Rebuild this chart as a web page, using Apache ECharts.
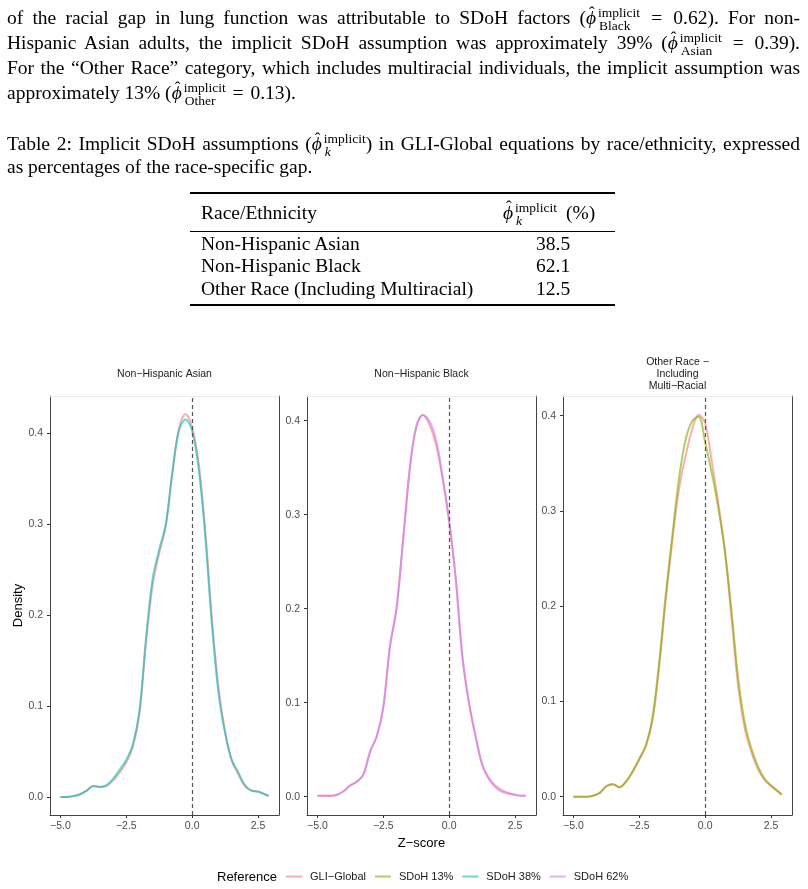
<!DOCTYPE html>
<html>
<head>
<meta charset="utf-8">
<script src="https://cdn.jsdelivr.net/npm/echarts@6/dist/echarts.min.js"></script>
<style>
  body { margin: 0; background: #fff; }
  #page { position: relative; width: 808px; height: 889px; overflow: hidden; }
  #chart { position: absolute; left: 0; top: 0; width: 808px; height: 889px; }
  #text { position: absolute; left: 0; top: 0; width: 808px; height: 330px; z-index: 2; pointer-events: none;
          font-family: "Liberation Serif", "DejaVu Serif", serif; font-size: 19.5px; color: #000; }
  .ln { position: absolute; left: 7px; width: 793px; height: 26px; line-height: 26px; white-space: nowrap; }
  .just { text-align: justify; text-align-last: justify; white-space: normal; }
  .phi { position: relative; font-style: italic; }
  .phi::after { content: "ˆ"; position: absolute; left: 3px; top: -7px; font-style: normal; font-size: 17px; }
  .ms { display: inline-flex; flex-direction: column; vertical-align: middle; font-size: 13.5px; line-height: 12.5px; margin-left: 2px; }
  .ms .sb { padding-left: 1px; }
  .eq { margin: 0 2px; }
  i { font-style: italic; }
  .rule { position: absolute; left: 190px; width: 425px; background: #000; }
  .cell { position: absolute; line-height: 24px; white-space: nowrap; }
</style>
</head>
<body>
<div id="page">
  <div id="chart"></div>
  <div id="text">
    <div class="ln just" style="top:5px">of the racial gap in lung function was attributable to SDoH factors (<span class="phi">ϕ</span><span class="ms"><span>implicit</span><span class="sb">Black</span></span> <span class="eq">=</span> 0.62). For non-</div>
    <div class="ln just" style="top:30px">Hispanic Asian adults, the implicit SDoH assumption was approximately 39% (<span class="phi">ϕ</span><span class="ms"><span>implicit</span><span class="sb">Asian</span></span> <span class="eq">=</span> 0.39).</div>
    <div class="ln just" style="top:55px">For the “Other Race” category, which includes multiracial individuals, the implicit assumption was</div>
    <div class="ln" style="top:80px">approximately 13% (<span class="phi">ϕ</span><span class="ms"><span>implicit</span><span class="sb">Other</span></span> <span class="eq">=</span> 0.13).</div>

    <div class="ln just" style="top:131px">Table 2: Implicit SDoH assumptions (<span class="phi">ϕ</span><span class="ms"><span>implicit</span><span class="sb"><i>k</i></span></span>) in GLI-Global equations by race/ethnicity, expressed</div>
    <div class="ln" style="top:154px">as percentages of the race-specific gap.</div>

    <div class="rule" style="top:192px; height:2px"></div>
    <div class="cell" style="left:201px; top:201px">Race/Ethnicity</div>
    <div class="cell" style="left:503px; top:201px"><span class="phi">ϕ</span><span class="ms"><span>implicit</span><span class="sb"><i>k</i></span></span><span style="padding-left:9px">(%)</span></div>
    <div class="rule" style="top:231px; height:1px"></div>
    <div class="cell" style="left:201px; top:232px">Non-Hispanic Asian</div>
    <div class="cell" style="left:536px; top:232px">38.5</div>
    <div class="cell" style="left:201px; top:254px">Non-Hispanic Black</div>
    <div class="cell" style="left:536px; top:254px">62.1</div>
    <div class="cell" style="left:201px; top:277px">Other Race (Including Multiracial)</div>
    <div class="cell" style="left:536px; top:277px">12.5</div>
    <div class="rule" style="top:304px; height:2px"></div>
  </div>
</div>
<script>
// z-score grid shared by every density curve
const zScores = [-5, -4.75, -4.5, -4.25, -4, -3.75, -3.5, -3.25, -3, -2.75, -2.5, -2.25, -2, -1.75, -1.5, -1.25,
  -1, -0.75, -0.5, -0.25, 0, 0.25, 0.5, 0.75, 1, 1.25, 1.5, 1.75, 2, 2.25, 2.5, 2.75, 2.9];

// Non-Hispanic Asian
const asianGli = [0, 0, 0.001, 0.003, 0.007, 0.012, 0.011, 0.012, 0.018, 0.027, 0.038, 0.055, 0.092, 0.170, 0.233, 0.268,
  0.298, 0.357, 0.405, 0.421, 0.406, 0.366, 0.292, 0.196, 0.120, 0.072, 0.040, 0.025, 0.012, 0.007, 0.006, 0.003, 0.001];
const asianSdoh38 = [0, 0, 0.001, 0.003, 0.007, 0.012, 0.011, 0.013, 0.020, 0.030, 0.041, 0.058, 0.095, 0.175, 0.240, 0.272,
  0.300, 0.357, 0.403, 0.415, 0.402, 0.360, 0.285, 0.189, 0.114, 0.070, 0.041, 0.027, 0.013, 0.007, 0.006, 0.003, 0.001];

// Non-Hispanic Black
const blackGli = [0.001, 0.001, 0.001, 0.002, 0.006, 0.012, 0.016, 0.024, 0.048, 0.064, 0.095, 0.158, 0.200, 0.272, 0.347, 0.393,
  0.406, 0.396, 0.375, 0.338, 0.293, 0.232, 0.150, 0.100, 0.065, 0.035, 0.020, 0.012, 0.007, 0.004, 0.002, 0.001, 0.001];
const blackSdoh62 = [0.001, 0.001, 0.001, 0.002, 0.006, 0.012, 0.016, 0.024, 0.048, 0.064, 0.095, 0.160, 0.200, 0.273, 0.348, 0.394,
  0.406, 0.400, 0.380, 0.341, 0.293, 0.232, 0.149, 0.100, 0.064, 0.034, 0.019, 0.010, 0.005, 0.003, 0.002, 0.001, 0.001];

// Other race, including multi-racial
const otherGli = [0, 0, 0, 0.001, 0.004, 0.011, 0.013, 0.010, 0.016, 0.026, 0.039, 0.053, 0.080, 0.135, 0.205, 0.268,
  0.322, 0.357, 0.385, 0.401, 0.392, 0.352, 0.308, 0.257, 0.188, 0.117, 0.072, 0.047, 0.029, 0.018, 0.011, 0.006, 0.002];
const otherSdoh13 = [0, 0, 0, 0.001, 0.004, 0.011, 0.013, 0.010, 0.016, 0.027, 0.040, 0.054, 0.083, 0.140, 0.211, 0.273,
  0.333, 0.374, 0.394, 0.399, 0.372, 0.340, 0.303, 0.258, 0.195, 0.125, 0.078, 0.051, 0.032, 0.019, 0.012, 0.006, 0.002];

const xTicks = [-5, -2.5, 0, 2.5];
const yTicks = [0, 0.1, 0.2, 0.3, 0.4];
const panelTitles = ['Non−Hispanic Asian', 'Non−Hispanic Black', 'Other Race −\nIncluding\nMulti−Racial'];
const legendNames = ['GLI−Global', 'SDoH 13%', 'SDoH 38%', 'SDoH 62%'];

const colors = {
  'GLI−Global': 'rgba(248,118,109,0.6)',
  'SDoH 13%': 'rgba(124,174,0,0.6)',
  'SDoH 38%': 'rgba(0,191,196,0.6)',
  'SDoH 62%': 'rgba(199,124,255,0.6)'
};

const panels = [
  { title: panelTitles[0], curves: [['GLI−Global', asianGli], ['SDoH 38%', asianSdoh38]], y: [-0.0198, 0.4407] },
  { title: panelTitles[1], curves: [['GLI−Global', blackGli], ['SDoH 62%', blackSdoh62]], y: [-0.0195, 0.4263] },
  { title: panelTitles[2], curves: [['GLI−Global', otherGli], ['SDoH 13%', otherSdoh13]], y: [-0.0192, 0.4207] }
];

const gridLeft = [50, 307, 563];
const font = '"Liberation Sans", Arial, sans-serif';
const minus = s => String(s).replace('-', '−');

const chart = echarts.init(document.getElementById('chart'));

const grid = [], xAxis = [], yAxis = [], series = [], graphic = [];

panels.forEach((p, i) => {
  grid.push({ left: gridLeft[i], top: 396, width: 229, height: 419 });

  // bottom axis with ticks, top edge as a faint line
  xAxis.push({
    type: 'value', gridIndex: i, min: -5.395, max: 3.295, position: 'bottom',
    axisLine: { show: true, onZero: false, lineStyle: { color: '#444', width: 1 } },
    axisTick: { show: true, length: 3, customValues: xTicks, lineStyle: { color: '#333' } },
    axisLabel: { customValues: xTicks, margin: 6, color: '#4d4d4d', fontSize: 10.5, fontFamily: font,
      formatter: v => minus(v.toFixed(1)) },
    splitLine: { show: false },
    name: i === 1 ? 'Z−score' : '', nameLocation: 'middle', nameGap: 22,
    nameTextStyle: { fontSize: 13, color: '#000', fontFamily: font }
  });
  xAxis.push({
    type: 'value', gridIndex: i, min: -5.395, max: 3.295, position: 'top',
    axisLine: { show: true, onZero: false, lineStyle: { color: '#ebebeb', width: 1 } },
    axisTick: { show: false }, axisLabel: { show: false }, splitLine: { show: false }
  });

  yAxis.push({
    type: 'value', gridIndex: i, min: p.y[0], max: p.y[1], position: 'left',
    axisLine: { show: true, onZero: false, lineStyle: { color: '#444', width: 1 } },
    axisTick: { show: true, length: 3, customValues: yTicks, lineStyle: { color: '#333' } },
    axisLabel: { customValues: yTicks, margin: 7, color: '#4d4d4d', fontSize: 10.5, fontFamily: font,
      formatter: v => v.toFixed(1) },
    splitLine: { show: false },
    name: i === 0 ? 'Density' : '', nameLocation: 'middle', nameGap: 25, nameRotate: 90,
    nameTextStyle: { fontSize: 13, color: '#000', fontFamily: font }
  });
  yAxis.push({
    type: 'value', gridIndex: i, min: p.y[0], max: p.y[1], position: 'right',
    axisLine: { show: true, onZero: false, lineStyle: { color: '#444', width: 1 } },
    axisTick: { show: false }, axisLabel: { show: false }, splitLine: { show: false }
  });

  p.curves.forEach(([name, ys], k) => {
    const s = {
      name: name, type: 'line', xAxisIndex: 2 * i, yAxisIndex: 2 * i,
      data: zScores.map((x, j) => [x, ys[j]]),
      smooth: 0.35, showSymbol: false, symbol: 'none', silent: true,
      itemStyle: { color: colors[name] },
      lineStyle: { color: colors[name], width: 2 }
    };
    if (k === p.curves.length - 1) {
      s.markLine = {
        silent: true, symbol: 'none', label: { show: false },
        lineStyle: { color: '#555', type: [4, 3], width: 1.2 },
        data: [{ xAxis: 0 }]
      };
    }
    series.push(s);
  });

  graphic.push({
    type: 'text', x: gridLeft[i] + 114.5, y: 374,
    style: { text: p.title, align: 'center', verticalAlign: 'middle', fontSize: 10.5, lineHeight: 12,
      fill: '#1a1a1a', fontFamily: font }
  });
});

graphic.push({
  type: 'text', x: 217, y: 877,
  style: { text: 'Reference', align: 'left', verticalAlign: 'middle', fontSize: 13, fill: '#000', fontFamily: font }
});

const option = {
  animation: false,
  grid: grid,
  xAxis: xAxis,
  yAxis: yAxis,
  legend: {
    data: legendNames,
    left: 286, top: 871, padding: 0,
    icon: 'rect', itemWidth: 16, itemHeight: 2, itemGap: 9,
    textStyle: { fontSize: 11, color: '#1a1a1a', fontFamily: font, padding: [0, 0, 0, 3] },
    selectedMode: false
  },
  graphic: graphic,
  series: series
};

chart.setOption(option);
window.addEventListener('resize', () => chart.resize());
</script>
</body>
</html>
